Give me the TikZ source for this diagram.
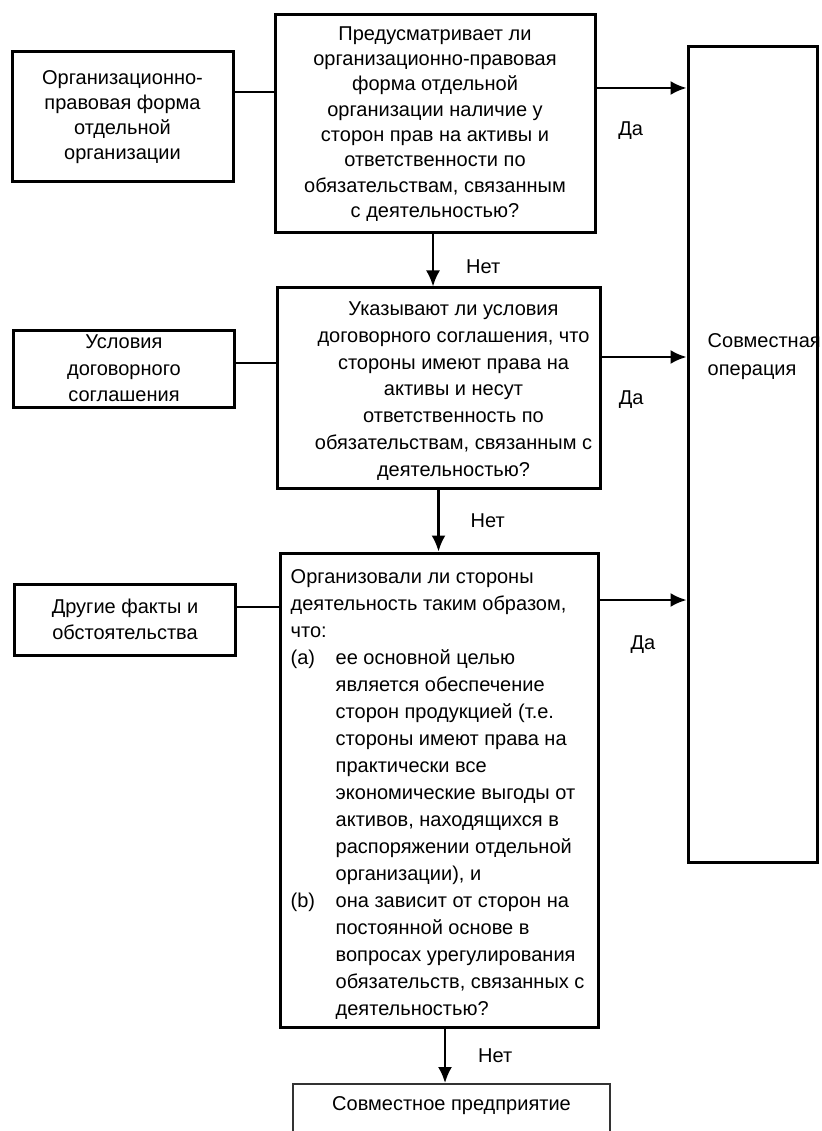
\documentclass[tikz,border=0pt]{standalone}
\usepackage{fontspec}
\setmainfont{Liberation Sans}
\usepackage{tikz}
\usetikzlibrary{arrows}
\usetikzlibrary{arrows.meta}
\usetikzlibrary{positioning}
\tikzstyle{every node}+=[inner sep=0pt]
\tikzstyle{block} = [rectangle, draw, line width=3pt, align=center, font=\fontsize{20}{26.5}\selectfont]
\tikzstyle{side} = [block, minimum width=221pt]
\tikzstyle{txt} = [align=center, font=\fontsize{20}{26.8}\selectfont]
\tikzstyle{line} = [draw, line width=2.3pt, -{Latex[length=16pt,width=14pt]}]
\tikzstyle{link} = [draw, line width=2.6pt]
\tikzstyle{value} = [font=\fontsize{20}{24}\selectfont]

\begin{document}
\begin{tikzpicture}[x=1pt, y=-1pt]
            \useasboundingbox (0,0) rectangle (821,1131);
            \clip (0,0) rectangle (821,1131);
            % Place nodes
            \node [block, minimum width=320pt, minimum height=218pt, font=\fontsize{20}{25.3}\selectfont] (q1) at (435,124) {Предусматривает ли\\организационно-правовая\\форма отдельной\\организации наличие у\\сторон прав на активы и\\ответственности по\\обязательствам, связанным\\с деятельностью?};
            \node [side, minimum height=130pt, font=\fontsize{20}{25}\selectfont] (lf1) at (122.5,117) {Организационно-\\правовая форма\\отдельной\\организации};
            \node [block, minimum width=323pt, minimum height=200pt] (q2) at (438.5,388) {};
            \node [txt] (q2t) at ([xshift=15pt, yshift=-3pt]q2.center) {Указывают ли условия\\договорного соглашения, что\\стороны имеют права на\\активы и несут\\ответственность по\\обязательствам, связанным с\\деятельностью?};
            \node [side, minimum height=77pt] (lf2) at (124,368.5) {Условия\\договорного\\соглашения};
            \node [block, minimum width=318pt, minimum height=474pt] (q3) at (439,790) {};
            \node [txt, align=left, anchor=west, font=\fontsize{20}{27}\selectfont] (q3t) at ([xshift=12pt, yshift=-4pt]q3.west) {Организовали ли стороны\\деятельность таким образом,\\что:\\\makebox[45pt][l]{(a)}ее основной целью\\\hspace*{45pt}является обеспечение\\\hspace*{45pt}сторон продукцией (т.е.\\\hspace*{45pt}стороны имеют права на\\\hspace*{45pt}практически все\\\hspace*{45pt}экономические выгоды от\\\hspace*{45pt}активов, находящихся в\\\hspace*{45pt}распоряжении отдельной\\\hspace*{45pt}организации), и\\\makebox[45pt][l]{(b)}она зависит от сторон на\\\hspace*{45pt}постоянной основе в\\\hspace*{45pt}вопросах урегулирования\\\hspace*{45pt}обязательств, связанных с\\\hspace*{45pt}деятельностью?};
            \node [side, minimum height=71pt] (lf3) at (125,619.5) {Другие факты и\\обстоятельства};
            \node [block, minimum width=129pt, minimum height=815pt] (op) at (752.5,454.5) {};
            \node [value, anchor=west, align=left, font=\fontsize{20}{28}\selectfont] (opt) at ([xshift=21pt, yshift=98pt]op.west) {Совместная\\операция};
            \node [draw=black!80, line width=1.8pt, minimum width=317pt, text height=27pt, text depth=50pt, anchor=north, value] (jv) at (451.5,1083) {Совместное предприятие};
            % Draw edges
            \path [link] ([yshift=25pt]lf1.east) -- ([yshift=25pt]lf1.east -| q1.west);
            \path [link] ([yshift=5.5pt]lf2.east) -- ([yshift=5.5pt]lf2.east -| q2.west);
            \path [link] ([yshift=12.5pt]lf3.east) -- ([yshift=12.5pt]lf3.east -| q3.west);
            \path [line] ([yshift=36pt]q1.east) -- ([yshift=36pt]q1.east -| op.west) node [value, pos=0.38, below=33pt] {Да};
            \path [line] ([yshift=31pt]q2.east) -- ([yshift=31pt]q2.east -| op.west) node [value, pos=0.35, below=33pt] {Да};
            \path [line] ([yshift=190pt]q3.east) -- ([yshift=190pt]q3.east -| op.west) node [value, pos=0.5, below=35pt] {Да};
            \path [line] ([xshift=-2pt]q1.south) -- ([xshift=-2pt]q1.south |- q2.north) node [value, midway, right=32pt, yshift=-6pt] {Нет};
            \path [line] (q2.south) -- (q2.south |- q3.north) node [value, midway, right=31pt] {Нет};
            \path [line] ([xshift=6pt]q3.south) -- ([xshift=6pt]q3.south |- jv.north) node [value, midway, right=32pt] {Нет};
          \end{tikzpicture}
\end{document}
